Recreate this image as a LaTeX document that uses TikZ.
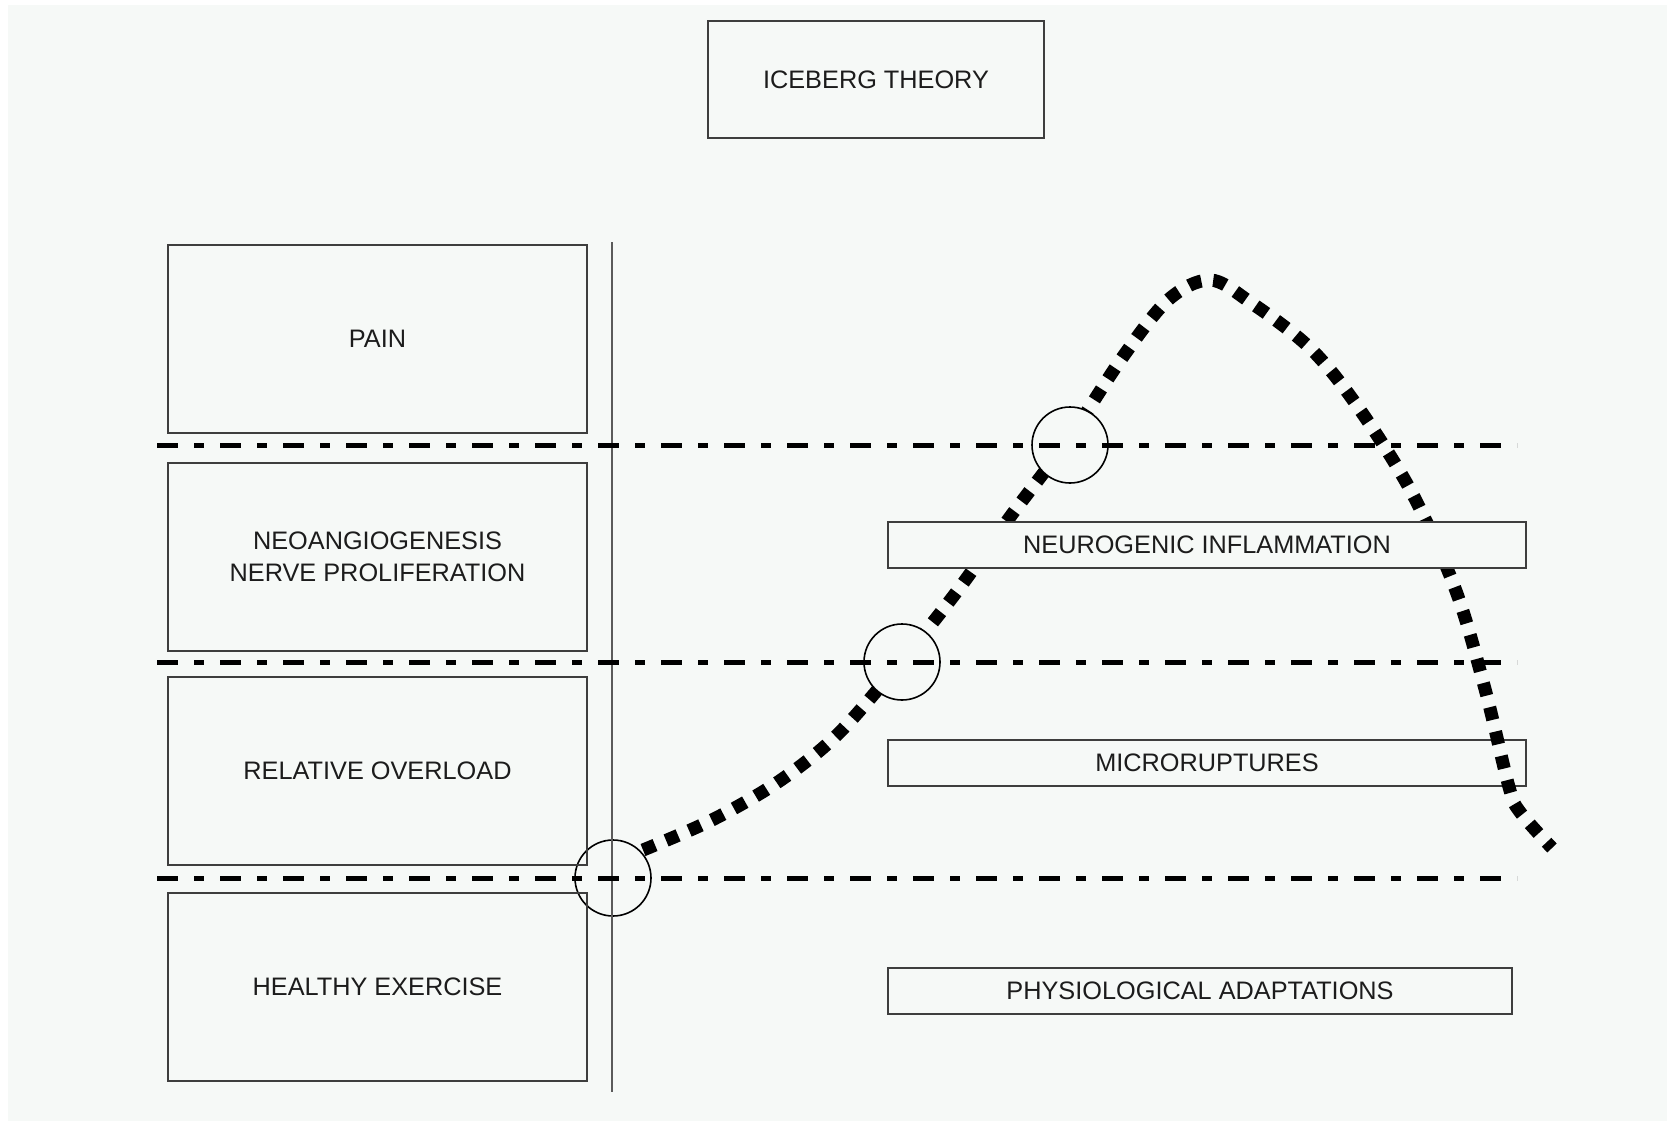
\documentclass[tikz,border=0pt]{standalone}
\usepackage{fontspec}
\setmainfont{Liberation Sans}
\usepackage{tikz}
\usetikzlibrary{positioning}

\definecolor{paper}{RGB}{246,249,247}
\definecolor{ink}{RGB}{28,28,28}
\definecolor{frame}{RGB}{62,62,62}
\newcommand{\labelfont}{\fontsize{25.3}{32}\selectfont}

\tikzset{
  stagebox/.style={draw=frame, line width=2pt, minimum width=419pt, minimum height=188pt, align=center, text=ink, font=\labelfont},
  effectbox/.style={draw=frame, line width=2pt, fill=paper, minimum height=46pt, text=ink, font=\labelfont},
  levelline/.style={line width=5pt, dash pattern=on 21pt off 16pt on 10pt off 16pt},
  ring/.style={circle, draw=black, line width=1.6pt, fill=paper, minimum size=76pt, inner sep=0pt},
  tendon/.style={line width=13pt, dash pattern=on 13pt off 12pt}
}

\begin{document}
\begin{tikzpicture}[x=1pt, y=-1pt]

            \useasboundingbox (0,0) rectangle (1667,1121);
            \fill[white] (0,0) rectangle (1667,1121);
            \fill[paper] (8,5) rectangle (1667,1121);

            \node[effectbox, minimum width=638pt] (micro) at (1207,762.5) {MICRORUPTURES};
            \node[effectbox, minimum width=624pt] (physio) at (1200,990.5) {PHYSIOLOGICAL ADAPTATIONS};

            % the overload curve
            \draw[tendon] plot[smooth, tension=0.55] coordinates {(643,850) (712,820) (778,782) (837,735) (899,664) (958,590) (1010,517) (1068,440) (1122,358) (1168,300) (1210,280) (1250,302) (1310,348) (1358,407) (1412,493) (1456,591) (1485,689) (1509,787) (1520,812) (1552,848)};

            \foreach \name/\x/\y in {ringa/613/878, ringb/902/662, ringc/1070/445}
            \node[ring] (\name) at (\x,\y) {};

            \node[effectbox, minimum width=638pt] (neuro) at (1207,545) {NEUROGENIC INFLAMMATION};

            \draw[frame!85, line width=2pt] (612,242) -- (612,1092);
            \foreach \y in {445, 662, 878}
            \draw[levelline] (157,\y) -- (1517,\y);

            \foreach \name/\y/\txt in {pain/339/PAIN, neo/557/{NEOANGIOGENESIS\\NERVE PROLIFERATION}, overload/770.5/RELATIVE OVERLOAD, healthy/987/HEALTHY EXERCISE}
            \node[stagebox] (\name) at (377.5,\y) {\txt};

            \node[stagebox, minimum width=336pt, minimum height=117pt] (title) at (876,79.5) {ICEBERG THEORY};
            \end{tikzpicture}
\end{document}
